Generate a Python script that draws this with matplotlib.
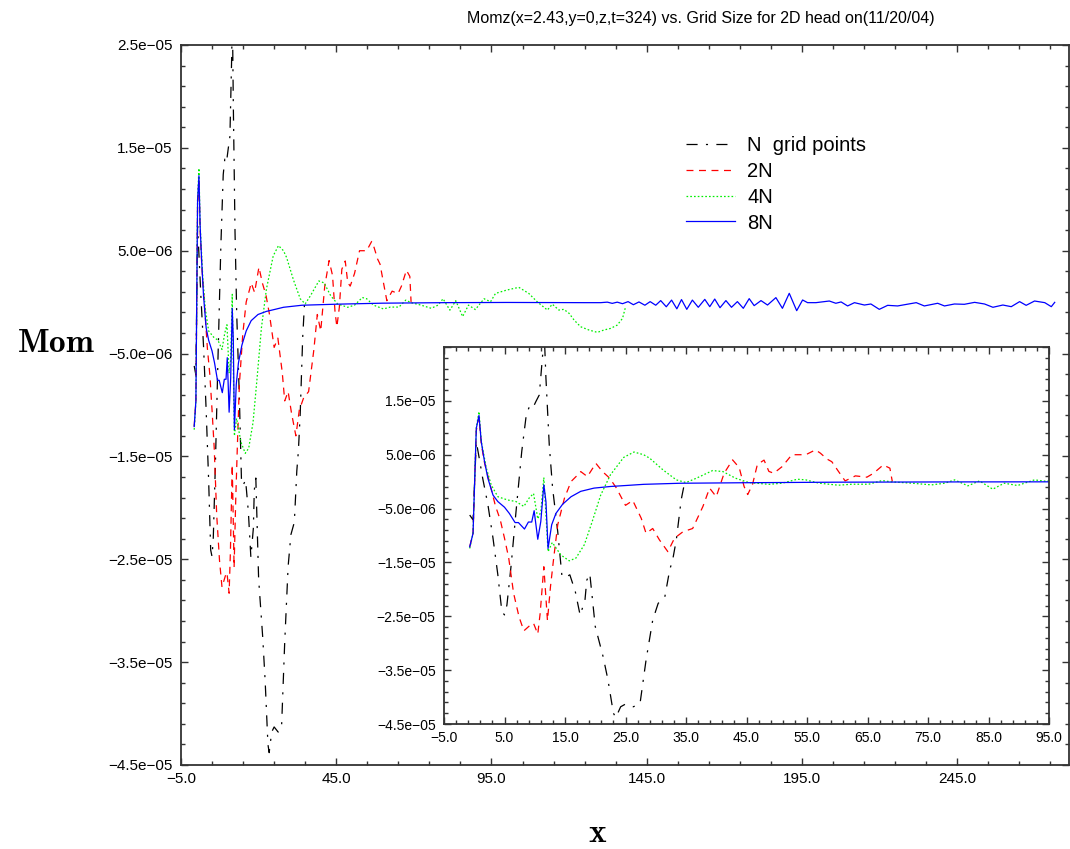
import numpy as np
import matplotlib
matplotlib.use("Agg")
import matplotlib.pyplot as plt
from matplotlib.ticker import FixedLocator, FuncFormatter

plt.rcParams['font.family'] = ['Liberation Sans', 'DejaVu Sans']
plt.rcParams['mathtext.fontset'] = 'cm'
plt.rcParams['lines.scale_dashes'] = False

# Momentum profiles, y values in units of 1e-6
x_n = [-0.75, -0.2, 0.34, 0.8, 1.4, 2.26, 3.1, 3.9, 4.56, 5.0, 5.4, 6.1, 6.9, 7.85, 8.6,
       9.1, 9.65, 10.2, 10.75, 11.3, 11.55, 11.85, 12.4, 12.95, 13.8, 14.5, 15.0, 15.8,
       16.7, 17.5, 18.3, 18.6, 19.1, 20.0, 21.3, 22.1, 23.0, 23.4, 24.2, 25.0, 26.3, 27.4,
       28.4, 29.5, 30.4, 31.5, 32.3, 32.8, 33.4, 34.2, 34.8]
y_n = [-6.2, -7.1, 7.4, 4.5, 0.6, -4.3, -10.5, -17.3, -24.1, -24.75, -22.9, -15.5, -5.6,
       5.6, 12.4, 13.9, 13.6, 14.9, 16.1, 23.5, 28.0, 19.2, 6.8, -1.2, -9.3, -17.6, -17.8,
       -17.3, -20.4, -24.8, -22.0, -18.3, -17.1, -26.9, -32.5, -36.8, -43.0, -43.8, -41.8,
       -41.3, -41.8, -41.2, -33.1, -25.7, -22.6, -21.4, -16.4, -14.5, -10.8, -3.4, 0.0]

x_2n = [-0.75, -0.2, 0.34, 0.78, 1.16, 1.7, 2.7, 3.5, 4.3, 5.0, 5.7, 6.5, 7.4, 8.2, 9.3,
        9.8, 10.5, 10.9, 11.5, 12.1, 12.6, 13.1, 13.8, 14.9, 16.0, 17.1, 17.6, 18.7, 20.1,
        21.2, 22.4, 23.5, 25.0, 26.2, 27.6, 28.4, 29.5, 30.6, 32.0, 33.1, 34.5, 36.1, 37.8,
        38.9, 40.0, 41.3, 42.7, 43.8, 44.6, 45.2, 46.0, 46.8, 47.9, 48.7, 49.5, 50.9, 52.5,
        54.8, 56.4, 57.2, 58.3, 59.1, 60.2, 61.3, 63.0, 64.9, 66.0, 67.6, 68.7, 69.1]
y_2n = [-12.1, -9.6, 9.5, 12.0, 7.0, 3.5, -0.9, -4.5, -7.1, -10.5, -14.2, -20.7, -25.1,
        -27.7, -26.6, -26.3, -28.3, -24.4, -15.8, -25.8, -19.5, -14.5, -8.0, -3.1, 0.02,
        1.25, 1.87, 0.94, 3.4, 1.87, 0.63, -1.2, -4.4, -3.5, -6.8, -9.6, -8.7, -10.8, -13.0,
        -10.5, -9.3, -8.7, -4.6, -1.2, -2.8, 1.56, 4.04, 2.6, -0.9, -2.4, -0.5, 3.2, 4.0,
        1.9, 1.56, 2.8, 5.0, 5.0, 5.9, 5.3, 4.2, 3.7, 1.9, 0.14, 1.07, 0.83, 1.56, 3.1, 2.5,
        0.02]

x_4n = [-0.75, -0.2, 0.34, 0.78, 1.16, 2.0, 2.8, 3.9, 5.5, 6.9, 8.2, 9.1, 9.8, 10.5, 11.0,
        11.5, 12.2, 12.9, 14.3, 15.7, 16.8, 18.2, 19.5, 20.9, 22.5, 24.7, 26.4, 28.0, 29.0,
        31.2, 33.4, 35.0, 36.7, 39.4, 41.1, 43.2, 45.4, 48.7, 50.9, 53.4, 54.8, 57.0, 60.2,
        62.4, 65.2, 67.4, 69.0, 72.3, 75.6, 77.8, 79.4, 81.6, 83.5, 85.7, 87.6, 89.8, 92.6,
        94.7, 96.3, 100.0, 103.8, 107.0, 109.7, 113.0, 114.6, 116.7, 118.3, 120.0, 121.6,
        123.7, 126.4, 129.1, 131.2, 133.4, 135.5, 137.2, 138.2]
y_4n = [-12.4, -9.6, 10.0, 13.0, 7.5, 2.5, -0.6, -2.8, -3.4, -3.7, -4.6, -3.0, -2.2, -6.9,
        -5.6, 0.76, -13.0, -11.3, -13.6, -14.7, -14.2, -11.7, -7.4, -2.5, 1.25, 4.5, 5.5,
        5.0, 4.35, 2.18, 0.33, -0.17, 0.63, 2.06, 1.87, 0.63, -0.17, -0.5, -0.29, 0.45,
        0.33, -0.29, -0.66, -0.48, -0.48, 0.2, -0.04, -0.29, -0.6, -0.29, 0.33, -0.78, 0.14,
        -1.4, -0.29, -0.72, 0.33, 0.04, 0.85, 1.18, 1.44, 0.85, 0.04, -0.77, -0.2, -0.77,
        -0.7, -1.09, -1.74, -2.39, -2.71, -2.94, -2.71, -2.55, -2.23, -1.58, -0.44]

x_8n = [-0.75, -0.2, 0.34, 0.78, 1.16, 1.7, 2.26, 3.1, 3.9, 5.0, 5.8, 6.75, 7.3, 8.3, 8.95,
        9.5, 9.9, 10.5, 11.0, 11.5, 11.85, 12.2, 12.8, 13.5, 14.6, 16.0, 17.6, 19.8, 22.5,
        25.3, 28.0, 34.0, 45.0, 60.0, 80.0, 100.0, 125.0,
        130.2, 132.3, 133.9, 135.5, 137.2, 139.0, 140.7, 142.5, 144.4, 146.1, 147.9, 149.5,
        151.3, 153.0, 154.7, 156.2, 157.9, 159.7, 161.6,
        163.7, 165.3, 166.9, 168.6, 170.5, 172.3, 174.2, 176.1, 178.0, 179.6, 181.8, 183.9,
        186.6, 188.7, 190.9, 193.3, 195.2,
        196.8, 199.5, 203.8, 205.9, 207.6, 209.7, 211.9, 215.1, 217.2, 219.9, 222.6, 225.8,
        231.8, 234.4, 238.7, 240.9, 244.1, 247.3, 250.6, 253.8, 256.5, 259.7, 262.4, 265.1,
        267.2, 269.9, 273.2, 275.3, 276.4]
y_8n = [-12.1, -9.6, 9.9, 12.3, 7.4, 3.7, 0.6, -2.5, -3.7, -4.75, -5.9, -7.6, -7.6, -8.8,
        -7.5, -7.5, -5.4, -10.7, -7.4, -0.6, -3.7, -12.4, -8.0, -5.9, -4.2, -2.8, -1.8, -1.2,
        -0.9, -0.7, -0.5, -0.3, -0.2, -0.1, -0.05, -0.03, -0.05,
        -0.05, 0.0, -0.12, 0.0, -0.15, 0.05, -0.25, 0.02, -0.3, 0.05, -0.3, 0.15,
        -0.45, 0.2, -0.65, 0.25, -0.7, 0.2, -0.5,
        0.27, -0.44, 0.3, -0.54, 0.15, -0.5, 0.05, -0.6, 0.34, -0.34, 0.15, -0.28,
        0.44, -0.6, 0.86, -0.83, 0.21,
        -0.05, -0.05, 0.11, -0.11, 0.02, -0.37, -0.05, -0.28, -0.18, -0.7, -0.31, -0.37,
        -0.05, -0.37, -0.11, -0.37, -0.18, -0.21, -0.02, -0.18, -0.5, -0.28, -0.44, 0.05,
        -0.31, 0.11, -0.05, -0.44, -0.02]

series = [
    ("N  grid points", x_n, y_n, dict(color='black', dashes=(8, 6, 1.5, 6))),
    ("2N", x_2n, y_2n, dict(color='#ff0000', dashes=(5, 4))),
    ("4N", x_4n, y_4n, dict(color='#00ee00', dashes=(1.2, 1.5))),
    ("8N", x_8n, y_8n, dict(color='#0000ff')),
]

y_ticks = [-4.5e-5, -3.5e-5, -2.5e-5, -1.5e-5, -5e-6, 5e-6, 1.5e-5, 2.5e-5]
y_minor = np.arange(-45, 26, 2) * 1e-6
main_xticks = [-5, 45, 95, 145, 195, 245]
main_xminor = np.arange(-5, 282, 10)
inset_xticks = np.arange(-5, 96, 10)
inset_xminor = np.arange(-5, 96, 2)


def sci(v, pos):
    return f"{v:.1e}".replace('-', '\u2212')


def fixed(v, pos):
    return f"{v:.1f}".replace('-', '\u2212')


def style(a, xmaj, xmin, size):
    a.xaxis.set_major_locator(FixedLocator(xmaj))
    a.xaxis.set_minor_locator(FixedLocator(xmin))
    a.yaxis.set_major_locator(FixedLocator(y_ticks))
    a.yaxis.set_minor_locator(FixedLocator(y_minor))
    a.xaxis.set_major_formatter(FuncFormatter(fixed))
    a.tick_params(which='both', direction='in', top=True, right=True,
                  colors='#333333', labelcolor='black', labelsize=size, width=1.0)
    a.tick_params(which='major', length=5)
    a.tick_params(which='minor', length=3)
    a.tick_params(axis='y', pad=6)
    a.tick_params(axis='x', pad=5)
    for s in a.spines.values():
        s.set_color('#333333')
        s.set_linewidth(1.3)


fig = plt.figure(figsize=(10.7, 8.49), dpi=100)
ax = fig.add_axes([181 / 1070, 1 - 765 / 849, 888 / 1070, 720 / 849])
ins = fig.add_axes([444 / 1070, 1 - 724 / 849, 605 / 1070, 377 / 849])

for label, xs, ys, kw in series:
    yv = np.array(ys) * 1e-6
    ax.plot(xs, yv, lw=0.9, label=label, **kw)
    ins.plot(xs, yv, lw=0.9, **kw)

ax.set_xlim(-5, 281)
ax.set_ylim(-4.5e-5, 2.5e-5)
style(ax, main_xticks, main_xminor, 11)
ax.yaxis.set_major_formatter(FuncFormatter(sci))

ins.set_xlim(-5, 95)
ins.set_ylim(-4.5e-5, 2.5e-5)
ins.set_facecolor('white')
style(ins, inset_xticks, inset_xminor, 10)
ins.yaxis.set_major_formatter(FuncFormatter(lambda v, p: '' if v > 2e-5 else sci(v, p)))

ax.legend(loc='upper left', bbox_to_anchor=(686 / 1070, 1 - 136 / 849),
          bbox_transform=fig.transFigure, frameon=False, fontsize=14.5,
          handlelength=2.45, handletextpad=0.6, labelspacing=0.34,
          borderpad=0, borderaxespad=0)

fig.text(701 / 1070, 1 - 18 / 849,
         "Momz(x=2.43,y=0,z,t=324) vs. Grid Size for 2D head on(11/20/04)",
         ha='center', va='center', fontsize=11.5)
fig.text(56 / 1070, 1 - 343 / 849, r'$\mathbf{Mom}$', ha='center', va='center', fontsize=24)
fig.text(598 / 1070, 1 - 833 / 849, r'$\mathbf{x}$', ha='center', va='center', fontsize=24)

fig.savefig('out.png', dpi=100)
